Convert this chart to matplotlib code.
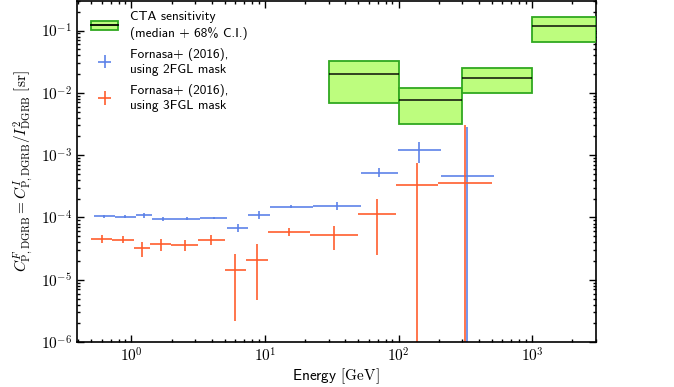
import numpy as np
import matplotlib
matplotlib.use('Agg')
import matplotlib.pyplot as plt
from matplotlib.patches import Patch
from matplotlib.lines import Line2D
from matplotlib.ticker import LogLocator, FuncFormatter, NullFormatter

plt.rcParams['mathtext.fontset'] = 'cm'
plt.rcParams['axes.unicode_minus'] = False

# Fermi energy bins (GeV)
edges = [0.5, 0.72, 1.04, 1.38, 1.99, 3.15, 5.0, 7.23, 10.45, 21.83, 50.0, 95.27, 199.05, 500.0]

# Fornasa+ (2016), 2FGL mask
c2 = [1.04e-4, 1.03e-4, 1.09e-4, 9.5e-5, 9.5e-5, 9.8e-5, 6.8e-5, 1.1e-4, 1.48e-4, 1.5e-4, 5.26e-4, 1.2e-3, 4.66e-4]
c2_lo = [0.98e-4, 0.98e-4, 0.98e-4, 0.88e-4, 0.90e-4, 0.93e-4, 5.8e-5, 0.94e-4, 1.40e-4, 1.3e-4, 4.5e-4, 7.4e-4, 0.0]
c2_hi = [1.10e-4, 1.08e-4, 1.20e-4, 1.02e-4, 1.0e-4, 1.03e-4, 7.9e-5, 1.28e-4, 1.56e-4, 1.75e-4, 6.2e-4, 1.63e-3, 2.8e-3]

# Fornasa+ (2016), 3FGL mask
c3 = [4.56e-5, 4.4e-5, 3.19e-5, 3.7e-5, 3.56e-5, 4.35e-5, 1.42e-5, 2.1e-5, 5.84e-5, 5.15e-5, 1.12e-4, 3.34e-4, 3.64e-4]
c3_lo = [3.93e-5, 3.9e-5, 2.32e-5, 2.92e-5, 2.89e-5, 3.6e-5, 2.16e-6, 4.68e-6, 4.97e-5, 3.04e-5, 2.5e-5, 0.0, 0.0]
c3_hi = [5.3e-5, 4.97e-5, 4.08e-5, 4.5e-5, 4.35e-5, 5.15e-5, 2.62e-5, 3.74e-5, 6.84e-5, 7.18e-5, 1.97e-4, 7.6e-4, 3.09e-3]

# CTA sensitivity (median + 68% C.I.)
cta_emin = [30, 100, 300, 1000]
cta_emax = [100, 300, 1000, 3000]
cta_med = [0.0198, 0.00769, 0.0175, 0.1175]
cta_lo = [0.00697, 0.00318, 0.00995, 0.065]
cta_hi = [0.0324, 0.01197, 0.0247, 0.167]

blue = '#5a80e8'
red = '#ff5a28'
green_face = '#bdfd7e'
green_edge = '#30a820'

fig = plt.figure(figsize=(6.74, 3.87), dpi=100)
ax = fig.add_axes([0.114, 0.116, 0.77, 0.882])

e = np.array(edges)
ec = np.sqrt(e[:-1] * e[1:])  # geometric bin centres

def draw(x, y, lo, hi, color):
    y = np.array(y)
    yerr = [y - np.array(lo), np.array(hi) - y]
    xerr = [x - e[:-1] * (x / ec), e[1:] * (x / ec) - x]
    return ax.errorbar(x, y, xerr=xerr, yerr=yerr, fmt='none', ecolor=color,
                       elinewidth=1.3, capsize=0, alpha=0.9)

h2 = draw(ec * 1.04, c2, c2_lo, c2_hi, blue)  # small shift so both sets are visible
h3 = draw(ec, c3, c3_lo, c3_hi, red)

# CTA boxes
lo = np.array(cta_lo)
hi = np.array(cta_hi)
ax.bar(cta_emin, hi - lo, bottom=lo, width=np.array(cta_emax) - np.array(cta_emin),
       align='edge', facecolor=green_face, edgecolor=green_edge, linewidth=1.3, zorder=3)
ax.hlines(cta_med, cta_emin, cta_emax, colors='k', linewidth=1.3, alpha=0.8, zorder=4)

ax.set_xscale('log')
ax.set_yscale('log')
ax.set_xlim(0.39, 3000)
ax.set_ylim(1e-6, 0.3)

fmt = FuncFormatter(lambda v, p: r'$10^{%d}$' % round(np.log10(v)))
for axis in (ax.xaxis, ax.yaxis):
    axis.set_major_locator(LogLocator(base=10, numticks=20))
    axis.set_minor_locator(LogLocator(base=10, subs=np.arange(2, 10), numticks=20))
    axis.set_major_formatter(fmt)
    axis.set_minor_formatter(NullFormatter())
ax.tick_params(which='both', direction='in', top=True, right=True, labelsize=11, width=1.0)
ax.tick_params(which='major', length=5)
ax.tick_params(which='minor', length=2.5)
for s in ax.spines.values():
    s.set_linewidth(1.2)

ax.set_xlabel(r'Energy $[\mathrm{GeV}]$', fontsize=11, family='cmss10', labelpad=1)
ax.set_ylabel(r'$C^F_{\rm P,DGRB} = C^I_{\rm P,DGRB}/I^2_{\rm DGRB}\ [\rm sr]$', fontsize=11)

cta_handle = (Patch(facecolor=green_face, edgecolor=green_edge, linewidth=1.3),
              Line2D([], [], color='k', linewidth=1.3))
leg = ax.legend([cta_handle, h2, h3],
                ['CTA sensitivity\n(median + 68% C.I.)',
                 'Fornasa+ (2016),\nusing 2FGL mask',
                 'Fornasa+ (2016),\nusing 3FGL mask'],
                loc='upper left', frameon=False, prop={'family': 'cmss10', 'size': 9.6},
                handlelength=2.0, handletextpad=0.9, labelspacing=0.6,
                bbox_to_anchor=(0.005, 1.004))
for t in leg.get_texts():
    t.set_linespacing(1.35)

fig.savefig('out.png', dpi=100)
